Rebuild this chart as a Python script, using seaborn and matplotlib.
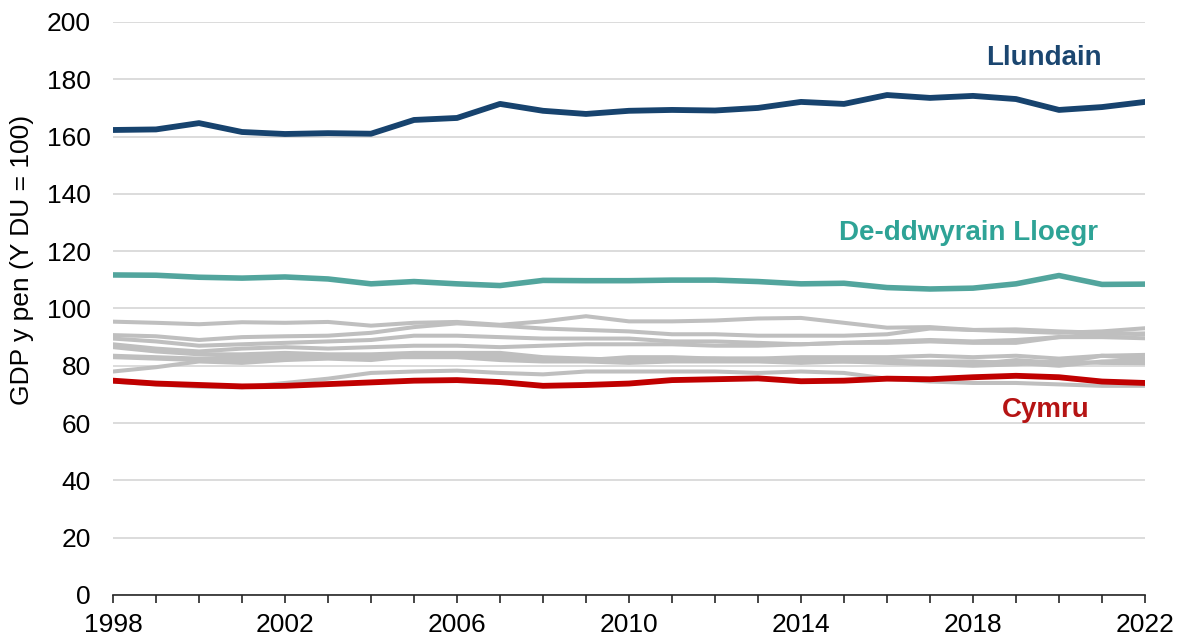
import numpy as np
import pandas as pd
import seaborn as sns
import matplotlib.pyplot as plt

years = list(range(1998, 2023))

# GDP per head, UK = 100
london = [162.3, 162.5, 164.7, 161.6, 160.9, 161.2, 161.0, 165.8, 166.5, 171.4, 169.0, 167.9, 169.0,
          169.3, 169.1, 170.0, 172.1, 171.4, 174.5, 173.5, 174.2, 173.1, 169.3, 170.3, 172.1]
south_east = [111.7, 111.6, 110.9, 110.6, 111.0, 110.3, 108.6, 109.4, 108.6, 108.0, 109.8, 109.7, 109.7,
              109.9, 109.9, 109.4, 108.6, 108.8, 107.3, 106.8, 107.1, 108.6, 111.5, 108.4, 108.5]
wales = [74.8, 73.8, 73.3, 72.8, 73.0, 73.6, 74.2, 74.8, 75.0, 74.3, 73.0, 73.3, 73.8,
         75.0, 75.3, 75.6, 74.6, 74.8, 75.5, 75.3, 76.0, 76.5, 76.0, 74.5, 74.0]

# other UK regions, drawn in grey
east = [95.4, 95.0, 94.5, 95.2, 95.0, 95.3, 94.0, 95.0, 95.3, 94.3, 95.5, 97.3, 95.5,
        95.5, 95.8, 96.5, 96.7, 95.0, 93.3, 93.5, 92.5, 92.7, 92.0, 91.5, 91.0]
scotland = [90.7, 90.3, 89.0, 90.0, 90.3, 90.5, 91.5, 93.5, 94.8, 94.0, 93.0, 92.5, 92.0,
            91.0, 91.0, 90.5, 90.5, 90.5, 91.0, 93.0, 92.5, 92.0, 91.5, 92.0, 93.1]
south_west = [89.5, 88.5, 87.0, 87.5, 88.0, 88.5, 89.0, 90.5, 90.5, 90.0, 89.5, 89.5, 89.5,
              88.5, 88.5, 88.0, 87.5, 88.0, 88.5, 89.0, 88.5, 89.0, 90.0, 90.0, 89.6]
north_west = [87.5, 86.0, 85.0, 86.0, 86.5, 86.0, 86.5, 87.0, 87.0, 86.5, 87.0, 87.5, 87.5,
              87.5, 87.0, 87.0, 87.5, 88.0, 88.0, 88.5, 88.0, 88.0, 90.0, 91.0, 91.3]
west_midlands = [86.5, 85.0, 84.0, 84.0, 84.5, 84.0, 84.0, 84.5, 84.5, 84.5, 83.0, 82.5, 82.0,
                 82.5, 82.5, 82.5, 83.0, 83.0, 83.0, 83.5, 83.0, 83.5, 82.5, 83.5, 83.8]
east_midlands = [83.5, 83.0, 82.5, 83.0, 83.5, 83.5, 83.0, 83.0, 83.0, 82.0, 81.5, 81.5, 81.0,
                 81.5, 81.5, 81.5, 81.0, 81.5, 81.5, 81.5, 81.5, 81.0, 80.0, 81.5, 82.0]
yorkshire = [83.0, 82.5, 82.0, 82.0, 82.5, 83.0, 83.0, 83.5, 83.5, 83.0, 82.5, 82.0, 83.0,
             83.0, 82.5, 82.0, 82.0, 81.5, 81.0, 80.5, 80.0, 80.5, 81.5, 81.0, 80.9]
n_ireland = [78.0, 79.5, 81.5, 81.0, 82.0, 82.5, 82.0, 83.5, 84.0, 83.5, 82.0, 82.0, 81.5,
             82.0, 82.5, 82.5, 82.0, 82.0, 82.0, 81.0, 80.5, 82.0, 81.0, 83.5, 82.5]
north_east = [74.5, 73.5, 72.7, 72.5, 74.0, 75.5, 77.5, 78.0, 78.3, 77.5, 77.0, 78.0, 78.0,
              78.0, 78.0, 77.5, 78.0, 77.5, 75.5, 74.5, 74.0, 74.0, 73.5, 73.0, 73.0]

grey_regions = {
    "Dwyrain Lloegr": east, "Yr Alban": scotland, "De-orllewin Lloegr": south_west,
    "Gogledd-orllewin Lloegr": north_west, "Gorllewin Canolbarth Lloegr": west_midlands,
    "Dwyrain Canolbarth Lloegr": east_midlands, "Swydd Efrog": yorkshire,
    "Gogledd Iwerddon": n_ireland, "Gogledd-ddwyrain Lloegr": north_east,
}

grey_df = pd.concat([pd.DataFrame({"year": years, "value": v, "region": k})
                     for k, v in grey_regions.items()])

sns.set_style("white")
plt.rcParams['font.family'] = ['Liberation Sans', 'DejaVu Sans']

fig, ax = plt.subplots(figsize=(11.81, 6.39), dpi=100)
fig.subplots_adjust(left=0.0957, right=0.9695, top=0.9656, bottom=0.0689)

sns.lineplot(data=grey_df, x="year", y="value", hue="region",
             palette=["#BFBFBF"] * len(grey_regions), lw=2.9, legend=False, ax=ax)
sns.lineplot(x=years, y=south_east, color="#52A59D", lw=4.0, ax=ax)
sns.lineplot(x=years, y=london, color="#17436E", lw=4.2, ax=ax)
sns.lineplot(x=years, y=wales, color="#C00000", lw=4.2, ax=ax)

ax.text(2019.65, 187.4, "Llundain", color="#1B4670", fontsize=20, fontweight="bold",
        ha="center", va="center")
ax.text(2017.9, 126.3, "De-ddwyrain Lloegr", color="#2EA396", fontsize=20, fontweight="bold",
        ha="center", va="center")
ax.text(2019.7, 64.6, "Cymru", color="#B51414", fontsize=20, fontweight="bold",
        ha="center", va="center")

ax.set_xlim(1998, 2022)
ax.set_ylim(0, 200)
ax.set_yticks(range(0, 201, 20))
ax.set_xticks(range(1998, 2023, 4))
ax.set_xticks(years, minor=True)
ax.yaxis.grid(True, color="#D9D9D9", lw=1.3)
ax.set_axisbelow(True)

for s in ["left", "right", "top"]:
    ax.spines[s].set_visible(False)
ax.spines["bottom"].set_color("#262626")
ax.spines["bottom"].set_linewidth(1.2)

ax.tick_params(axis="y", length=0, pad=16, labelsize=19, labelcolor="black")
ax.tick_params(axis="x", which="both", direction="out", length=6, width=1.2,
               color="#262626", bottom=True, labelsize=19, pad=7, labelcolor="black")
ax.tick_params(axis="x", which="minor", length=6)

ax.set_xlabel("")
ax.set_ylabel("GDP y pen (Y DU = 100)", fontsize=19, color="black")
ax.yaxis.set_label_coords(-0.077, 0.585)

fig.savefig("out.png", dpi=100)
